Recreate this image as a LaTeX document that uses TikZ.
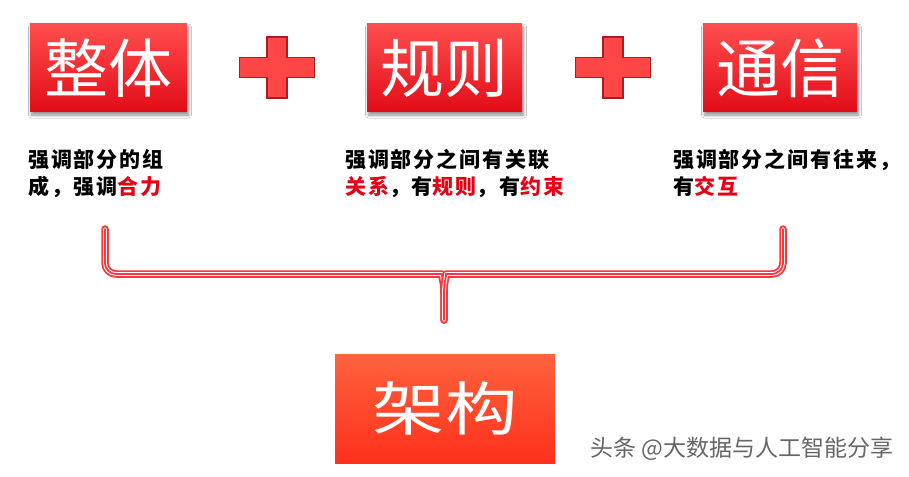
\documentclass[tikz,border=0pt]{standalone}
\usepackage{fontspec}
\usepackage{graphicx}
\setmainfont{Noto Sans CJK SC}
\usetikzlibrary{shadows.blur}
\definecolor{boxtop}{RGB}{255,78,78}
\definecolor{boxbot}{RGB}{226,12,24}
\definecolor{archtop}{RGB}{255,98,62}
\definecolor{archbot}{RGB}{255,48,28}
\definecolor{plusfill}{RGB}{255,70,70}
\definecolor{plusedge}{RGB}{170,30,30}
\definecolor{hl}{RGB}{232,0,20}
\definecolor{brkred}{RGB}{250,55,60}
\tikzset{
  bigbox/.style={rectangle, inner sep=0pt, top color=boxtop, bottom color=boxbot,
    text=white, font=\fontsize{64}{64}\selectfont,
    blur shadow={shadow xshift=1.5pt, shadow yshift=-3pt, shadow blur steps=8, shadow blur radius=3pt, shadow opacity=45}},
  archbox/.style={rectangle, inner sep=0pt, top color=archtop, bottom color=archbot,
    text=white, minimum width=220pt, minimum height=109pt},
  desc/.style={anchor=base west, inner sep=0pt, text=black,
    font=\fontsize{21}{24}\selectfont\bfseries\addfontfeatures{LetterSpace=9}},
  plusst/.style={fill=plusfill, draw=plusedge, line width=1.1pt, line join=miter},
  brk/.style={draw=brkred, line width=7.5pt, line cap=round, line join=round,
    postaction={draw=white, line width=3.8pt, line cap=round},
    postaction={draw=brkred, line width=1.8pt, line cap=round}},
  plussign/.pic={
    \draw[plusst] (-37.5,-10) -- (-10,-10) -- (-10,-30.5) -- (10,-30.5) -- (10,-10)
      -- (37.5,-10) -- (37.5,10) -- (10,10) -- (10,30.5) -- (-10,30.5) -- (-10,10)
      -- (-37.5,10) -- cycle;}
}
\begin{document}
\begin{tikzpicture}[x=1pt,y=-1pt]
\useasboundingbox (0,0) rectangle (909,476);
\fill[white] (0,0) rectangle (909,476);

% top boxes
\node[bigbox, minimum width=157pt, minimum height=88pt] (zt) at (108.5,68) {整体};
\node[bigbox, minimum width=155pt, minimum height=88pt] (gz) at (444.5,68) {规则};
\node[bigbox, minimum width=154pt, minimum height=88pt] (tx) at (780,68) {通信};

% plus signs
\pic at (277,67.5) {plussign};
\pic at (613,67.5) {plussign};

% descriptions
\node[desc] (t1a) at (28,167) {强调部分的组};
\node[desc] (t1b) at (28,194) {成，强调\textcolor{hl}{合力}};
\node[desc] (t2a) at (345,167) {强调部分之间有关联};
\node[desc] (t2b) at (345,194) {\textcolor{hl}{关系}，有\textcolor{hl}{规则}，有\textcolor{hl}{约束}};
\node[desc] (t3a) at (673,167) {强调部分之间有往来，};
\node[desc] (t3b) at (673,194) {有\textcolor{hl}{交互}};

% bracket
\coordinate (bl) at (105,229);
\coordinate (br) at (783,229);
\coordinate (bm) at (444,320);
\draw[brk] (bl) [rounded corners=11pt] -- (105,274) -- (431,274) [sharp corners]
  .. controls (441,274) and (444,281) .. (444,293) -- (bm);
\draw[brk] (br) [rounded corners=11pt] -- (783,274) -- (457,274) [sharp corners]
  .. controls (447,274) and (444,281) .. (444,293) -- (bm);

% bottom box
\node[archbox] (jg) at (445,408.5) {\scalebox{1.25}[1]{\fontsize{58}{58}\selectfont 架构}};

% watermark
\node[anchor=base west, inner sep=0pt, text=black!60, font=\fontsize{23}{23}\selectfont] (wm) at (590,456) {头条 @大数据与人工智能分享};
\end{tikzpicture}
\end{document}
